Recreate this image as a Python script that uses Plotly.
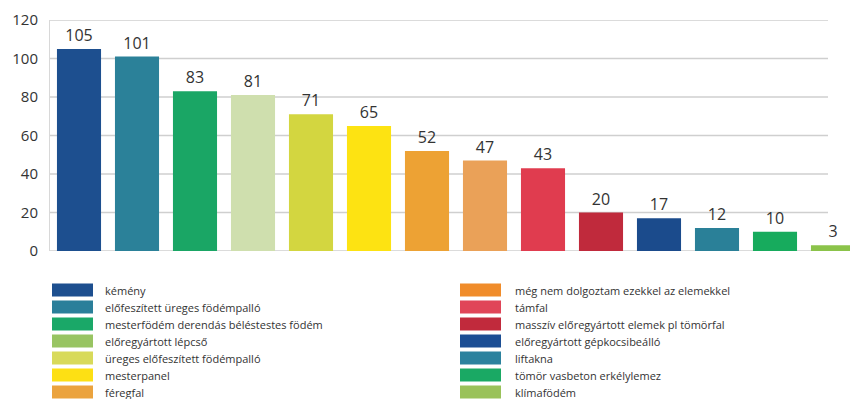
import plotly.graph_objects as go

categories = [
    "kémény",
    "előfeszített üreges födémpalló",
    "mesterfödém derendás béléstestes födém",
    "előregyártott lépcső",
    "üreges előfeszített födémpalló",
    "mesterpanel",
    "féregfal",
    "még nem dolgoztam ezekkel az elemekkel",
    "támfal",
    "masszív előregyártott elemek pl tömörfal",
    "előregyártott gépkocsibeálló",
    "liftakna",
    "tömör vasbeton erkélylemez",
    "klímafödém",
]
values = [105, 101, 83, 81, 71, 65, 52, 47, 43, 20, 17, 12, 10, 3]
bar_colors = ["#1d4f8f", "#2b8199", "#1aa665", "#cfdfae", "#d3d640", "#fde312", "#eda234",
              "#eaa158", "#e03c4f", "#c02a3c", "#1b4b8c", "#2a8098", "#17ab5d", "#8bc34a"]
legend_colors = ["#1d4f8f", "#2a7f9a", "#1aa868", "#98c462", "#d8da5a", "#fde014", "#eba33e",
                 "#f08c2a", "#e04558", "#c12a3c", "#1c4e94", "#2c829e", "#1aa964", "#9ac25a"]
y_ticks = [0, 20, 40, 60, 80, 100, 120]

W, H = 850, 399
L, R, T, B = 50, 0, 20, 148
PW, PH = W - L - R, H - T - B
cat_px = 58.0

def px_x(px):
    return (px - L) / PW

def px_y(py):
    return (H - B - py) / PH

fig = go.Figure()
fig.add_trace(go.Bar(
    x=list(range(len(categories))), y=values,
    marker=dict(color=bar_colors, line=dict(width=0)),
    text=[str(v) for v in values], textposition="outside",
    textfont=dict(size=16, color="#333333", family="Open Sans"),
    cliponaxis=False, showlegend=False, hovertext=categories,
))

shapes = []
x_end = (828 - L) / cat_px - 0.5
x_start = (44 - L) / cat_px - 0.5
for t in y_ticks:
    shapes.append(dict(type="line", xref="x", yref="y", x0=x_start, x1=x_end, y0=t, y1=t,
                       line=dict(color="#cfcfcf", width=1.5), layer="below"))

annotations = []
half = 7
for i, name in enumerate(categories):
    col = i // half
    row = i % half
    sx0 = 52 if col == 0 else 460
    sx1 = sx0 + 41
    tx = 103 if col == 0 else 513
    cy = 290 + row * 17
    shapes.append(dict(type="rect", xref="paper", yref="paper",
                       x0=px_x(sx0), x1=px_x(sx1), y0=px_y(cy + 6.5), y1=px_y(cy - 6.5),
                       fillcolor=legend_colors[i], line=dict(width=0)))
    annotations.append(dict(xref="paper", yref="paper", x=px_x(tx), y=px_y(cy),
                            xanchor="left", yanchor="middle", text=name, showarrow=False,
                            font=dict(size=11, color="#333333", family="Open Sans")))

fig.update_layout(
    width=W, height=H,
    margin=dict(l=L, r=R, t=T, b=B, pad=0),
    paper_bgcolor="white", plot_bgcolor="white",
    bargap=0.24,
    xaxis=dict(range=[-0.5, -0.5 + PW / cat_px], showticklabels=False, showgrid=False,
               zeroline=False, showline=False, fixedrange=True),
    yaxis=dict(range=[0, 120], tickvals=y_ticks, showgrid=False, zeroline=False,
               showline=True, linecolor="#d8d8d8", linewidth=1,
               ticks="", ticklabelstandoff=8,
               tickfont=dict(size=15, color="#333333", family="Open Sans")),
    shapes=shapes, annotations=annotations,
    showlegend=False,
)

fig.write_html("out.html")
